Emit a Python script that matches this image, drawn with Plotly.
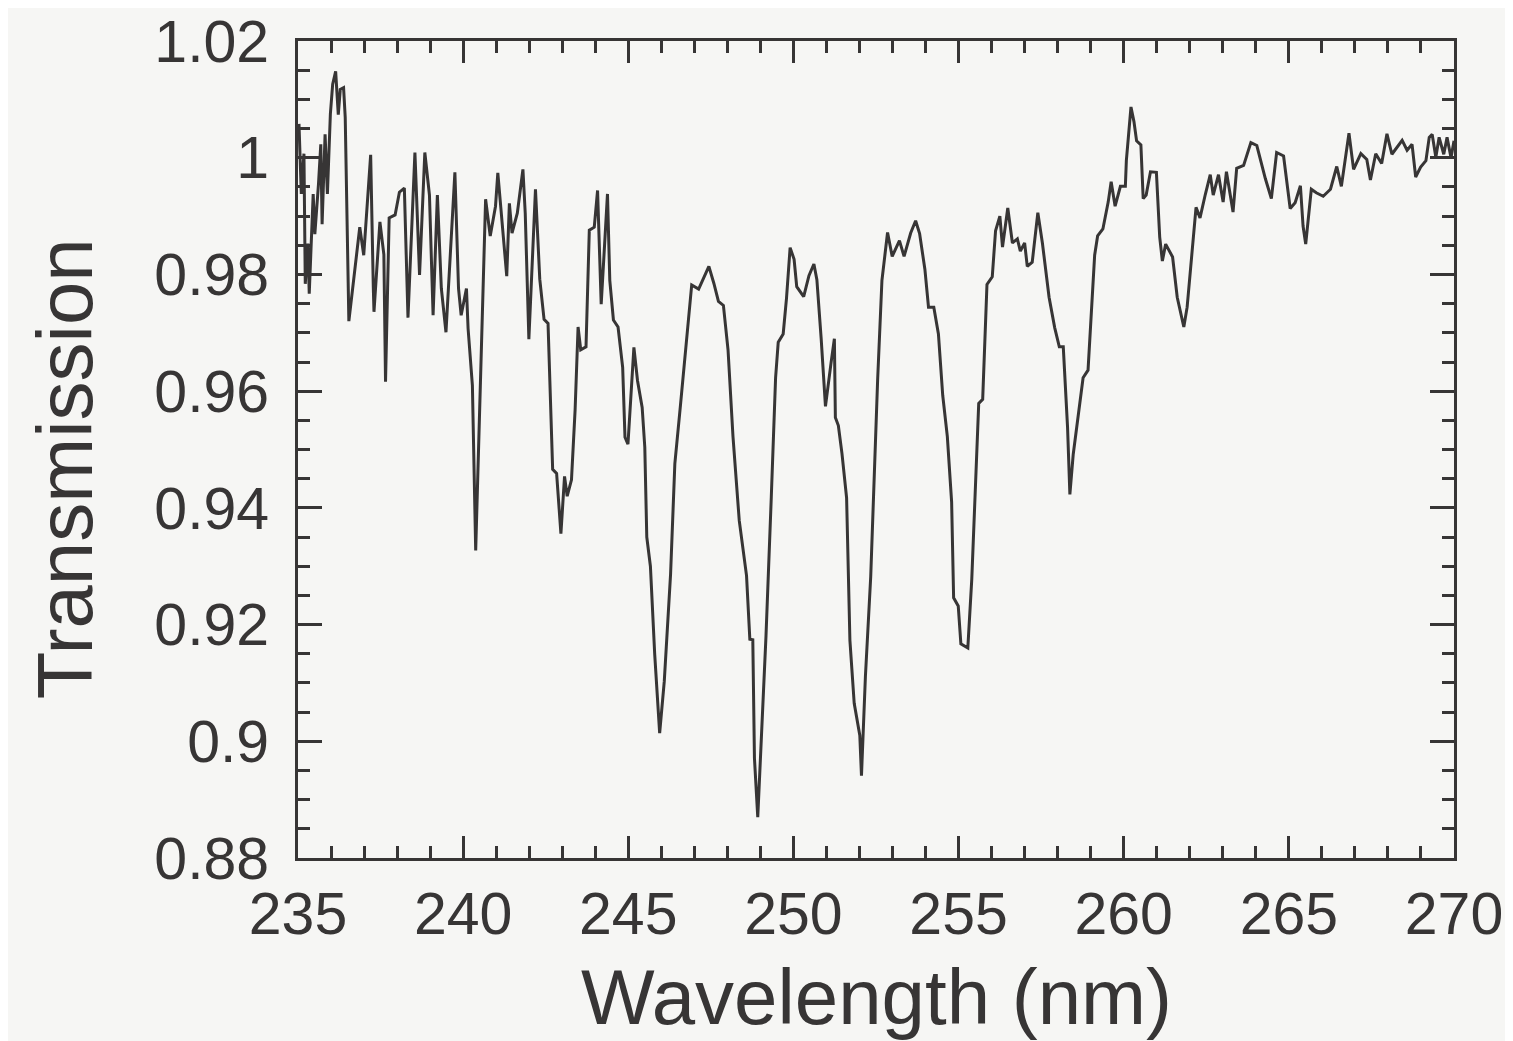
import plotly.graph_objects as go

# Wavelength (nm) and transmission values
wavelength = [
    235.03, 235.10, 235.18, 235.22, 235.30, 235.34, 235.46, 235.51, 235.62, 235.69,
    235.73, 235.82, 235.89, 235.98, 236.05, 236.14, 236.22, 236.28, 236.38, 236.43,
    236.54, 236.87, 236.99, 237.20, 237.28, 237.30, 237.48, 237.60, 237.65, 237.76,
    237.94, 238.07, 238.22, 238.33, 238.54, 238.68, 238.84, 238.98, 239.09, 239.22,
    239.34, 239.48, 239.75, 239.86, 239.94, 240.10, 240.15, 240.28, 240.38, 240.61,
    240.68, 240.82, 240.98, 241.05, 241.18, 241.32, 241.40, 241.48, 241.64, 241.81,
    241.88, 241.99, 242.19, 242.32, 242.45, 242.57, 242.71, 242.83, 242.96, 243.07,
    243.15, 243.28, 243.39, 243.48, 243.56, 243.72, 243.82, 243.97, 244.07, 244.18,
    244.37, 244.44, 244.55, 244.69, 244.83, 244.90, 244.99, 245.17, 245.28, 245.42,
    245.50, 245.56, 245.67, 245.80, 245.95, 246.09, 246.28, 246.41, 246.58, 246.82,
    246.92, 247.13, 247.28, 247.44, 247.59, 247.73, 247.88, 248.02, 248.17, 248.28,
    248.36, 248.58, 248.68, 248.77, 248.82, 248.92, 249.04, 249.17, 249.33, 249.46,
    249.54, 249.69, 249.79, 249.90, 250.02, 250.10, 250.31, 250.47, 250.62, 250.71,
    250.84, 250.97, 251.14, 251.24, 251.27, 251.36, 251.47, 251.61, 251.71, 251.84,
    252.01, 252.06, 252.18, 252.34, 252.55, 252.68, 252.85, 252.99, 253.21, 253.35,
    253.55, 253.70, 253.82, 253.98, 254.09, 254.25, 254.39, 254.52, 254.66, 254.79,
    254.85, 254.99, 255.07, 255.28, 255.40, 255.61, 255.73, 255.86, 256.02, 256.12,
    256.25, 256.33, 256.49, 256.63, 256.78, 256.87, 257.00, 257.08, 257.23, 257.40,
    257.54, 257.74, 257.91, 258.05, 258.17, 258.30, 258.37, 258.47, 258.77, 258.92,
    259.12, 259.21, 259.37, 259.53, 259.62, 259.74, 259.90, 260.05, 260.08, 260.22,
    260.31, 260.39, 260.52, 260.59, 260.68, 260.81, 260.99, 261.09, 261.17, 261.27,
    261.48, 261.62, 261.82, 261.92, 262.19, 262.31, 262.47, 262.62, 262.71, 262.87,
    263.01, 263.11, 263.31, 263.42, 263.63, 263.85, 264.03, 264.29, 264.47, 264.63,
    264.84, 265.04, 265.19, 265.35, 265.43, 265.51, 265.68, 265.83, 266.04, 266.26,
    266.45, 266.59, 266.82, 266.96, 267.18, 267.36, 267.47, 267.63, 267.81, 267.97,
    268.12, 268.27, 268.43, 268.58, 268.73, 268.84, 268.99, 269.15, 269.25, 269.34,
    269.45, 269.55, 269.69, 269.79, 269.91, 270.00,
]

transmission = [
    1.0058, 0.9938, 1.0007, 0.9784, 0.9853, 0.9767, 0.9938, 0.9869, 0.9955, 1.0023,
    0.9886, 1.0040, 0.9938, 1.0075, 1.0126, 1.0148, 1.0074, 1.0117, 1.0120, 1.0069,
    0.9720, 0.9881, 0.9833, 1.0005, 0.9778, 0.9736, 0.9890, 0.9834, 0.9616, 0.9897,
    0.9902, 0.9941, 0.9948, 0.9726, 1.0009, 0.9799, 1.0009, 0.9936, 0.9730, 0.9936,
    0.9776, 0.9701, 0.9975, 0.9776, 0.9730, 0.9776, 0.9707, 0.9610, 0.9327, 0.9763,
    0.9929, 0.9866, 0.9917, 0.9974, 0.9888, 0.9797, 0.9922, 0.9871, 0.9905, 0.9980,
    0.9905, 0.9689, 0.9946, 0.9792, 0.9723, 0.9716, 0.9466, 0.9459, 0.9356, 0.9454,
    0.9420, 0.9448, 0.9568, 0.9710, 0.9671, 0.9676, 0.9876, 0.9881, 0.9944, 0.9749,
    0.9938, 0.9790, 0.9722, 0.9710, 0.9641, 0.9521, 0.9509, 0.9675, 0.9618, 0.9572,
    0.9504, 0.9350, 0.9300, 0.9149, 0.9014, 0.9103, 0.9286, 0.9476, 0.9576, 0.9713,
    0.9782, 0.9775, 0.9794, 0.9814, 0.9785, 0.9754, 0.9747, 0.9671, 0.9522, 0.9433,
    0.9378, 0.9284, 0.9175, 0.9174, 0.8971, 0.8870, 0.9012, 0.9181, 0.9419, 0.9623,
    0.9684, 0.9698, 0.9759, 0.9846, 0.9826, 0.9779, 0.9762, 0.9798, 0.9818, 0.9791,
    0.9690, 0.9574, 0.9649, 0.9690, 0.9555, 0.9541, 0.9493, 0.9417, 0.9173, 0.9065,
    0.9010, 0.8941, 0.9112, 0.9282, 0.9620, 0.9790, 0.9872, 0.9831, 0.9858, 0.9831,
    0.9871, 0.9892, 0.9870, 0.9809, 0.9744, 0.9744, 0.9698, 0.9593, 0.9522, 0.9410,
    0.9246, 0.9232, 0.9167, 0.9160, 0.9278, 0.9579, 0.9586, 0.9783, 0.9796, 0.9875,
    0.9900, 0.9847, 0.9914, 0.9854, 0.9861, 0.9840, 0.9854, 0.9814, 0.9821, 0.9906,
    0.9853, 0.9761, 0.9709, 0.9676, 0.9676, 0.9538, 0.9423, 0.9491, 0.9623, 0.9636,
    0.9833, 0.9866, 0.9878, 0.9924, 0.9959, 0.9917, 0.9951, 0.9951, 0.9995, 1.0087,
    1.0062, 1.0029, 1.0022, 0.9930, 0.9936, 0.9976, 0.9975, 0.9864, 0.9823, 0.9852,
    0.9830, 0.9761, 0.9710, 0.9744, 0.9915, 0.9897, 0.9937, 0.9971, 0.9936, 0.9971,
    0.9924, 0.9976, 0.9907, 0.9982, 0.9987, 1.0026, 1.0021, 0.9964, 0.9930, 1.0009,
    1.0003, 0.9913, 0.9923, 0.9952, 0.9883, 0.9852, 0.9946, 0.9940, 0.9934, 0.9946,
    0.9985, 0.9951, 1.0042, 0.9980, 1.0007, 0.9997, 0.9962, 1.0007, 0.9990, 1.0041,
    1.0006, 1.0018, 1.0030, 1.0013, 1.0023, 0.9967, 0.9984, 0.9995, 1.0035, 1.0040,
    1.0001, 1.0035, 1.0006, 1.0035, 1.0000, 1.0029,
]

x_tick_vals = [235, 240, 245, 250, 255, 260, 265, 270]
x_tick_text = ["235", "240", "245", "250", "255", "260", "265", "270"]
y_tick_vals = [0.88, 0.90, 0.92, 0.94, 0.96, 0.98, 1.00, 1.02]
y_tick_text = ["0.88", "0.9", "0.92", "0.94", "0.96", "0.98", "1", "1.02"]

x_title = "Wavelength (nm)"
y_title = "Transmission"

INK = "#373535"
BG = "#f6f6f4"
FONT = "Liberation Sans, Arial, Helvetica, sans-serif"

fig = go.Figure()
fig.add_trace(go.Scatter(
    x=wavelength, y=transmission, mode="lines",
    line=dict(color=INK, width=3), showlegend=False, hoverinfo="skip",
))

axis_common = dict(
    showgrid=False, zeroline=False,
    showline=True, linecolor=INK, linewidth=3, mirror="allticks",
    ticks="inside", tickcolor=INK, tickwidth=2.5,
    tickfont=dict(family=FONT, size=59, color=INK),
    ticklabeloverflow="allow", automargin=False,
)

fig.update_xaxes(
    range=[235, 270.0001], tickmode="array", tickvals=x_tick_vals, ticktext=x_tick_text,
    ticklen=22, ticklabelstandoff=2,
    minor=dict(ticks="inside", dtick=1, ticklen=12, tickwidth=2.5, tickcolor=INK, showgrid=False),
    **axis_common,
)
fig.update_yaxes(
    range=[0.88, 1.02001], tickmode="array", tickvals=y_tick_vals, ticktext=y_tick_text,
    ticklen=24, ticklabelstandoff=14,
    minor=dict(ticks="inside", dtick=0.005, tick0=0.88, ticklen=12, tickwidth=2.5, tickcolor=INK, showgrid=False),
    **axis_common,
)

# the page adds an 8 px body margin, so the figure is sized/offset to compensate
fig.update_layout(
    width=1505, height=1033,
    margin=dict(l=290, r=59, t=33, b=183),
    paper_bgcolor=BG, plot_bgcolor=BG,
    font=dict(family=FONT, color=INK),
    annotations=[
        dict(text=x_title, xref="paper", yref="paper", x=0.5, y=-0.17,
             xanchor="center", yanchor="middle", showarrow=False,
             font=dict(family=FONT, size=78, color=INK)),
        dict(text=y_title, xref="paper", yref="paper", x=-0.2016, y=0.477,
             xanchor="center", yanchor="middle", textangle=-90, showarrow=False,
             font=dict(family=FONT, size=78, color=INK)),
    ],
)

fig.write_html("out.html")
